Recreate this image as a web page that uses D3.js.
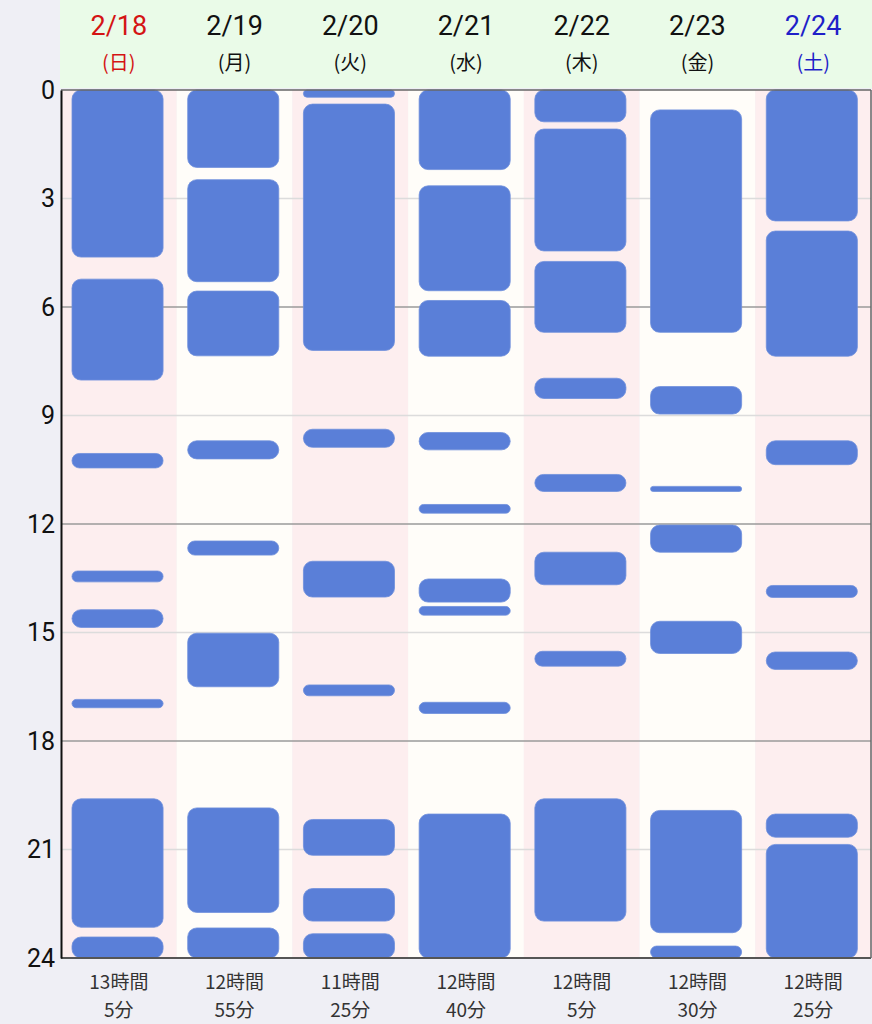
<!DOCTYPE html>
<html>
    <head>
        <meta charset="utf-8" />
        <style>
            body{ margin: 0; background: #efeff5; }
            svg{ display: block; }
            text{ font-family: "Noto Sans CJK JP", "Noto Sans", sans-serif; }
        </style>
    </head>
    <body>
        <svg id="sleep" width="872" height="1024"></svg>
        <script src="https://cdnjs.cloudflare.com/ajax/libs/d3/7.8.5/d3.min.js" charset="utf-8"></script>
        <script>
            // days and weekday labels
            var days = ['2/18', '2/19', '2/20', '2/21', '2/22', '2/23', '2/24'];
            var weekdays = ['(日)', '(月)', '(火)', '(水)', '(木)', '(金)', '(土)'];

            // sleep periods for each day, [start hour, end hour]
            var sleep0218 = [[0, 4.62], [5.23, 8.02], [10.05, 10.45], [13.3, 13.6], [14.37, 14.86], [16.85, 17.08], [19.6, 23.15], [23.42, 24]];
            var sleep0219 = [[0, 2.14], [2.48, 5.3], [5.56, 7.35], [9.7, 10.2], [12.47, 12.86], [15.02, 16.5], [19.85, 22.74], [23.17, 24]];
            var sleep0220 = [[0, 0.2], [0.39, 7.2], [9.38, 9.88], [13.03, 14.02], [16.45, 16.75], [20.17, 21.16], [22.08, 22.98], [23.33, 24]];
            var sleep0221 = [[0, 2.2], [2.65, 5.55], [5.82, 7.36], [9.47, 9.95], [11.46, 11.7], [13.52, 14.16], [14.28, 14.52], [16.93, 17.24], [20.02, 24]];
            var sleep0222 = [[0, 0.88], [1.08, 4.45], [4.74, 6.7], [7.97, 8.53], [10.63, 11.1], [12.78, 13.68], [15.52, 15.93], [19.6, 22.98]];
            var sleep0223 = [[0.55, 6.7], [8.2, 8.96], [10.96, 11.1], [12.03, 12.78], [14.69, 15.58], [19.92, 23.3], [23.67, 24]];
            var sleep0224 = [[0, 3.62], [3.9, 7.36], [9.7, 10.36], [13.7, 14.03], [15.54, 16.02], [20.02, 20.66], [20.86, 24]];
            var sleepByDay = [sleep0218, sleep0219, sleep0220, sleep0221, sleep0222, sleep0223, sleep0224];

            // totals under each column
            var totalHours = ['13時間', '12時間', '11時間', '12時間', '12時間', '12時間', '12時間'];
            var totalMinutes = ['5分', '55分', '25分', '40分', '5分', '30分', '25分'];

            var hourTicks = [0, 3, 6, 9, 12, 15, 18, 21, 24];

            var svg = d3.select('#sleep');
            var plotLeft = 61, plotRight = 871, plotTop = 90, plotBottom = 958;

            var x = d3.scaleBand().domain(days).range([plotLeft, plotRight]);
            var y = d3.scaleLinear().domain([0, 24]).range([plotTop, plotBottom]);

            // header background
            svg.append('rect')
                .attr('x', plotLeft - 1).attr('y', 0)
                .attr('width', 872 - plotLeft + 1).attr('height', plotTop - 2)
                .attr('fill', '#eafbe8');

            // column bands
            svg.selectAll('.band')
                .data(days)
                .enter().append('rect')
                .attr('class', 'band')
                .attr('x', function(d){ return x(d); })
                .attr('y', plotTop)
                .attr('width', x.bandwidth())
                .attr('height', plotBottom - plotTop)
                .attr('fill', function(d, i){ return i % 2 == 0 ? '#fdeeef' : '#fffdf9'; });

            // grid lines
            svg.selectAll('.grid')
                .data(hourTicks.slice(1, -1))
                .enter().append('line')
                .attr('class', 'grid')
                .attr('x1', plotLeft).attr('x2', plotRight)
                .attr('y1', function(d){ return y(d); })
                .attr('y2', function(d){ return y(d); })
                .attr('stroke', function(d){ return d % 6 == 0 ? '#9a9a9a' : '#dcdcdc'; })
                .attr('stroke-width', 1.5);

            // sleep bars
            var barOffset = 11, barWidth = x.bandwidth() * 0.787;
            sleepByDay.forEach(function(periods, i){
                svg.selectAll('.bar-' + i)
                    .data(periods)
                    .enter().append('rect')
                    .attr('class', 'bar-' + i)
                    .attr('x', x(days[i]) + barOffset)
                    .attr('y', function(d){ return y(d[0]); })
                    .attr('width', barWidth)
                    .attr('height', function(d){ return y(d[1]) - y(d[0]); })
                    .attr('rx', function(d){ return Math.min(9, (y(d[1]) - y(d[0])) / 2); })
                    .attr('fill', '#5a7fd8')
                    .attr('stroke', '#6f8fdc')
                    .attr('stroke-width', 0.8);
            });

            // frame
            svg.append('line').attr('x1', plotLeft).attr('x2', plotRight).attr('y1', plotTop).attr('y2', plotTop)
                .attr('stroke', '#666').attr('stroke-width', 1.5);
            svg.append('line').attr('x1', plotLeft).attr('x2', plotRight).attr('y1', plotBottom).attr('y2', plotBottom)
                .attr('stroke', '#555').attr('stroke-width', 2);
            svg.append('line').attr('x1', plotRight).attr('x2', plotRight).attr('y1', plotTop).attr('y2', plotBottom)
                .attr('stroke', '#666').attr('stroke-width', 1.5);

            // y axis
            var yAxis = d3.axisLeft(y).tickValues(hourTicks).tickSize(0).tickPadding(6);
            var yg = svg.append('g')
                .attr('transform', 'translate(' + plotLeft + ',0)')
                .call(yAxis);
            yg.select('.domain').attr('stroke', '#111').attr('stroke-width', 2);
            yg.selectAll('text')
                .style('font-family', 'Roboto, "Noto Sans", sans-serif')
                .style('font-size', '25px')
                .attr('fill', '#111');

            // header labels
            var dayColor = function(i){
                if(i == 0) return '#d41414';
                if(i == 6) return '#1f1fc8';
                return '#111';
            };
            svg.selectAll('.day')
                .data(days)
                .enter().append('text')
                .attr('class', 'day')
                .text(function(d){ return d; })
                .attr('x', function(d){ return x(d) + x.bandwidth() / 2; })
                .attr('y', 35)
                .attr('text-anchor', 'middle')
                .style('font-family', 'Roboto, "Noto Sans", sans-serif')
                .style('font-size', '27px')
                .attr('fill', function(d, i){ return dayColor(i); });

            svg.selectAll('.weekday')
                .data(weekdays)
                .enter().append('text')
                .attr('class', 'weekday')
                .text(function(d){ return d; })
                .attr('x', function(d, i){ return x(days[i]) + x.bandwidth() / 2; })
                .attr('y', 70)
                .attr('text-anchor', 'middle')
                .style('font-size', '20px')
                .attr('fill', function(d, i){ return dayColor(i); });

            // totals
            svg.selectAll('.total-h')
                .data(totalHours)
                .enter().append('text')
                .attr('class', 'total-h')
                .text(function(d){ return d; })
                .attr('x', function(d, i){ return x(days[i]) + x.bandwidth() / 2; })
                .attr('y', 989)
                .attr('text-anchor', 'middle')
                .style('font-size', '19px')
                .attr('fill', '#333');

            svg.selectAll('.total-m')
                .data(totalMinutes)
                .enter().append('text')
                .attr('class', 'total-m')
                .text(function(d){ return d; })
                .attr('x', function(d, i){ return x(days[i]) + x.bandwidth() / 2; })
                .attr('y', 1017)
                .attr('text-anchor', 'middle')
                .style('font-size', '19px')
                .attr('fill', '#333');
        </script>
    </body>
</html>
